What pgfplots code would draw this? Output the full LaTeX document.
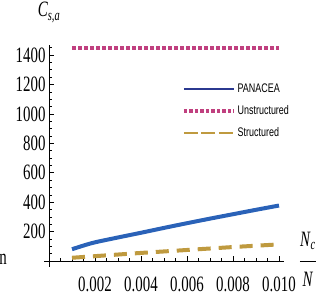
\documentclass[border=0pt]{standalone}
\usepackage{pgfplots}
\pgfplotsset{compat=1.18}
\usepackage{fontspec}
\setmainfont{Liberation Serif}[FakeStretch=0.68]
\setsansfont{Liberation Sans}[FakeStretch=0.72]
\definecolor{pblue}{RGB}{42,98,184}
\definecolor{pnavy}{RGB}{43,57,144}
\definecolor{pmag}{RGB}{192,64,127}
\definecolor{pgold}{RGB}{191,154,63}
\begin{document}
\begin{tikzpicture}
\begin{axis}[
  scale only axis, width=239.2bp, height=222.2bp,
  axis lines=middle, axis line style={-, black, line width=0.6bp},
  xmin=-0.0002, xmax=0.0102, ymin=-40, ymax=1470,
  scaled x ticks=false, scaled y ticks=false,
  xtick={0.002,0.004,0.006,0.008,0.010},
  xticklabels={0.002,0.004,0.006,0.008,0.010},
  minor xtick={0.0005,0.001,0.0015,0.0025,0.003,0.0035,0.0045,0.005,0.0055,0.0065,0.007,0.0075,0.0085,0.009,0.0095},
  ytick={200,400,600,800,1000,1200,1400},
  yticklabels={200,400,600,800,1000,1200,1400},
  minor ytick={50,100,150,250,300,350,450,500,550,650,700,750,850,900,950,1050,1100,1150,1250,1300,1350,1450},
  tick align=inside,
  major tick length=5bp, minor tick length=3bp,
  tick style={black, line width=0.5bp},
  ticklabel style={font=\rmfamily\fontsize{22}{22}\selectfont},
  xticklabel style={yshift=-12bp},
  /pgf/number format/assume math mode=true,
  clip=false,
  legend style={draw=none, fill=none, at={(rel axis cs:0.575,0.833)}, anchor=north west,
    font=\sffamily\fontsize{12.5}{12.5}\selectfont, inner sep=0pt, row sep=7.5bp,
    /tikz/every even column/.append style={column sep=3bp}},
  legend cell align=left,
  legend image code/.code={\draw[#1] (0bp,0bp) -- (50bp,0bp);},
]
\addlegendimage{pnavy, line width=2.2bp}
\addlegendentry{PANACEA}
\addlegendimage{pmag, line width=3.5bp, dash pattern=on 3.5bp off 2bp}
\addlegendentry{Unstructured}
\addlegendimage{pgold, line width=2.5bp, dash pattern=on 14bp off 3.5bp}
\addlegendentry{Structured}

\addplot[forget plot, pblue, line width=4bp, smooth] coordinates {
(0.001,80) (0.0015,105) (0.002,127) (0.003,160) (0.004,192) (0.005,225) (0.006,257) (0.007,288) (0.008,318) (0.009,348) (0.010,377)};
\addplot[forget plot, pmag, line width=4bp, dash pattern=on 3.5bp off 2.5bp] coordinates {
(0.001,1445) (0.010,1445)};
\addplot[forget plot, pgold, line width=4bp, dash pattern=on 13bp off 8bp] coordinates {
(0.001,22) (0.002,33) (0.004,55) (0.006,75) (0.008,95) (0.010,113)};

\node[font=\fontsize{22}{22}\selectfont, anchor=base west, inner sep=0pt] at (axis cs:-0.00217,-27) {n};
\node[font=\fontsize{22}{22}\selectfont, anchor=south, inner sep=0pt] at (axis cs:0.01126,75) {\textit{N}\textsubscript{\textit{c}}};
\node[font=\fontsize{22}{22}\selectfont, anchor=north, inner sep=0pt] at (axis cs:0.01126,-75) {\textit{N}};
\draw[black, line width=0.7bp] (axis cs:0.01091,0) -- (axis cs:0.01161,0);
\node[font=\fontsize{22}{22}\selectfont, anchor=south, inner sep=0pt] at (axis cs:0,1620) {\textit{C}\textsubscript{\textit{s,a}}};
\end{axis}
\pgfresetboundingbox
\path[use as bounding box] ([xshift=-44.4bp,yshift=-37.1bp]current axis.south west) rectangle ([xshift=283.6bp,yshift=44.7bp]current axis.north west);
\end{tikzpicture}
\end{document}
